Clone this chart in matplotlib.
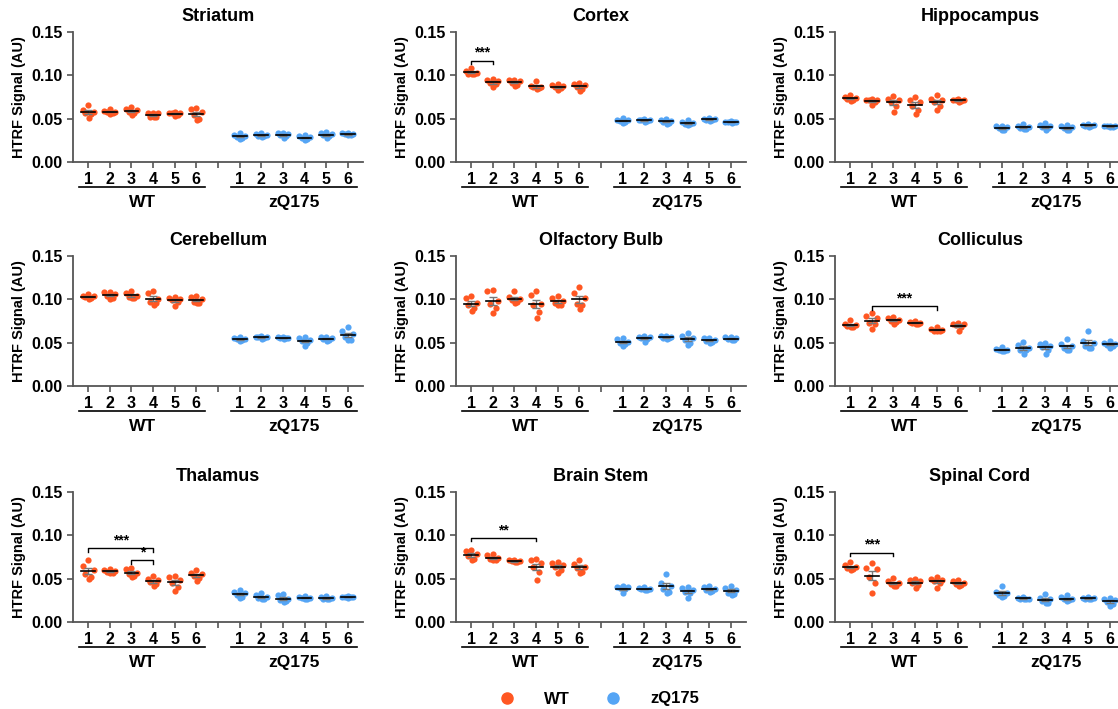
import numpy as np
import matplotlib.pyplot as plt
from matplotlib.lines import Line2D
from matplotlib.transforms import blended_transform_factory

plt.rcParams['font.family'] = ['Liberation Sans', 'DejaVu Sans']
plt.rcParams['font.weight'] = 'bold'

# individual points (HTRF signal, AU), groups 1-6
striatum_wt = [[0.066, 0.060, 0.058, 0.057, 0.055, 0.051], [0.061, 0.059, 0.058, 0.058, 0.057, 0.055],
               [0.063, 0.061, 0.060, 0.058, 0.057, 0.054], [0.057, 0.057, 0.056, 0.052, 0.052, 0.052],
               [0.058, 0.057, 0.057, 0.056, 0.054, 0.053], [0.062, 0.061, 0.058, 0.054, 0.050, 0.048]]
striatum_zq = [[0.033, 0.031, 0.030, 0.029, 0.028, 0.027], [0.033, 0.032, 0.031, 0.030, 0.030, 0.029],
               [0.033, 0.033, 0.032, 0.031, 0.030, 0.028], [0.031, 0.030, 0.029, 0.028, 0.026, 0.025],
               [0.035, 0.033, 0.032, 0.031, 0.030, 0.028], [0.034, 0.033, 0.032, 0.032, 0.031, 0.031]]
cortex_wt = [[0.108, 0.105, 0.103, 0.102, 0.102, 0.101], [0.096, 0.095, 0.093, 0.091, 0.090, 0.086],
             [0.095, 0.095, 0.093, 0.091, 0.089, 0.088], [0.094, 0.088, 0.087, 0.086, 0.085, 0.084],
             [0.090, 0.089, 0.088, 0.087, 0.085, 0.083], [0.091, 0.090, 0.089, 0.087, 0.084, 0.082]]
cortex_zq = [[0.051, 0.049, 0.048, 0.047, 0.046, 0.045], [0.050, 0.049, 0.048, 0.048, 0.047, 0.046],
             [0.050, 0.049, 0.047, 0.046, 0.045, 0.044], [0.048, 0.046, 0.045, 0.044, 0.044, 0.043],
             [0.051, 0.050, 0.050, 0.049, 0.048, 0.047], [0.047, 0.046, 0.046, 0.046, 0.046, 0.045]]
hippo_wt = [[0.077, 0.075, 0.074, 0.073, 0.071, 0.070], [0.073, 0.072, 0.072, 0.071, 0.069, 0.066],
            [0.076, 0.073, 0.071, 0.069, 0.065, 0.058], [0.075, 0.071, 0.069, 0.065, 0.060, 0.055],
            [0.077, 0.073, 0.071, 0.069, 0.065, 0.060], [0.073, 0.072, 0.071, 0.071, 0.070, 0.069]]
hippo_zq = [[0.042, 0.041, 0.040, 0.039, 0.037, 0.037], [0.044, 0.042, 0.040, 0.039, 0.038, 0.038],
            [0.045, 0.043, 0.041, 0.040, 0.039, 0.037], [0.043, 0.041, 0.040, 0.039, 0.037, 0.037],
            [0.044, 0.043, 0.043, 0.042, 0.041, 0.040], [0.042, 0.042, 0.041, 0.041, 0.040, 0.040]]
cereb_wt = [[0.106, 0.104, 0.104, 0.103, 0.102, 0.100], [0.109, 0.108, 0.106, 0.104, 0.102, 0.100],
            [0.110, 0.107, 0.104, 0.103, 0.102, 0.101], [0.110, 0.107, 0.100, 0.097, 0.096, 0.094],
            [0.103, 0.102, 0.100, 0.099, 0.097, 0.092], [0.104, 0.103, 0.100, 0.097, 0.096, 0.096]]
cereb_zq = [[0.056, 0.055, 0.054, 0.054, 0.053, 0.052], [0.058, 0.057, 0.057, 0.056, 0.055, 0.054],
            [0.056, 0.056, 0.055, 0.055, 0.055, 0.054], [0.056, 0.055, 0.053, 0.052, 0.050, 0.046],
            [0.057, 0.056, 0.055, 0.054, 0.053, 0.052], [0.068, 0.064, 0.060, 0.056, 0.053, 0.053]]
olf_wt = [[0.104, 0.102, 0.096, 0.093, 0.090, 0.086], [0.111, 0.110, 0.098, 0.095, 0.090, 0.084],
          [0.110, 0.103, 0.100, 0.099, 0.097, 0.096], [0.110, 0.105, 0.095, 0.093, 0.085, 0.078],
          [0.104, 0.102, 0.098, 0.096, 0.094, 0.093], [0.114, 0.107, 0.102, 0.095, 0.093, 0.089]]
olf_zq = [[0.055, 0.054, 0.051, 0.050, 0.048, 0.046], [0.058, 0.057, 0.056, 0.055, 0.054, 0.051],
          [0.058, 0.058, 0.056, 0.055, 0.055, 0.054], [0.061, 0.058, 0.055, 0.053, 0.050, 0.047],
          [0.055, 0.055, 0.053, 0.052, 0.051, 0.050], [0.057, 0.056, 0.055, 0.054, 0.053, 0.053]]
coll_wt = [[0.076, 0.072, 0.070, 0.069, 0.068, 0.068], [0.084, 0.081, 0.078, 0.073, 0.071, 0.066],
           [0.080, 0.079, 0.076, 0.075, 0.074, 0.072], [0.075, 0.074, 0.073, 0.073, 0.072, 0.071],
           [0.068, 0.066, 0.065, 0.064, 0.063, 0.063], [0.073, 0.072, 0.071, 0.070, 0.068, 0.064]]
coll_zq = [[0.045, 0.043, 0.042, 0.041, 0.040, 0.040], [0.051, 0.047, 0.044, 0.042, 0.041, 0.037],
           [0.050, 0.048, 0.046, 0.045, 0.042, 0.037], [0.054, 0.048, 0.046, 0.044, 0.042, 0.042],
           [0.063, 0.052, 0.050, 0.046, 0.044, 0.044], [0.052, 0.050, 0.049, 0.047, 0.046, 0.044]]
thal_wt = [[0.072, 0.065, 0.060, 0.055, 0.052, 0.050], [0.061, 0.060, 0.059, 0.058, 0.057, 0.056],
           [0.062, 0.061, 0.057, 0.055, 0.053, 0.052], [0.053, 0.050, 0.048, 0.046, 0.044, 0.041],
           [0.053, 0.052, 0.048, 0.045, 0.040, 0.036], [0.060, 0.057, 0.055, 0.053, 0.051, 0.047]]
thal_zq = [[0.037, 0.035, 0.033, 0.031, 0.029, 0.028], [0.033, 0.031, 0.029, 0.028, 0.027, 0.026],
           [0.032, 0.031, 0.027, 0.025, 0.024, 0.023], [0.030, 0.029, 0.028, 0.028, 0.027, 0.027],
           [0.030, 0.029, 0.028, 0.027, 0.026, 0.026], [0.030, 0.029, 0.029, 0.029, 0.029, 0.028]]
stem_wt = [[0.083, 0.082, 0.078, 0.076, 0.073, 0.072], [0.078, 0.077, 0.074, 0.073, 0.072, 0.071],
           [0.071, 0.071, 0.070, 0.070, 0.069, 0.069], [0.073, 0.071, 0.068, 0.064, 0.058, 0.048],
           [0.069, 0.068, 0.066, 0.063, 0.060, 0.057], [0.072, 0.067, 0.064, 0.062, 0.058, 0.056]]
stem_zq = [[0.041, 0.040, 0.040, 0.039, 0.038, 0.033], [0.040, 0.039, 0.038, 0.038, 0.037, 0.037],
           [0.055, 0.045, 0.041, 0.038, 0.035, 0.033], [0.040, 0.039, 0.037, 0.035, 0.033, 0.028],
           [0.041, 0.040, 0.038, 0.037, 0.036, 0.035], [0.042, 0.039, 0.037, 0.034, 0.032, 0.031]]
spinal_wt = [[0.069, 0.066, 0.063, 0.062, 0.061, 0.060], [0.068, 0.062, 0.061, 0.052, 0.045, 0.033],
             [0.051, 0.047, 0.045, 0.044, 0.042, 0.041], [0.050, 0.049, 0.047, 0.045, 0.043, 0.039],
             [0.052, 0.050, 0.048, 0.047, 0.045, 0.039], [0.049, 0.047, 0.045, 0.044, 0.043, 0.042]]
spinal_zq = [[0.042, 0.035, 0.033, 0.031, 0.030, 0.029], [0.029, 0.028, 0.027, 0.027, 0.026, 0.026],
             [0.032, 0.028, 0.026, 0.024, 0.022, 0.022], [0.031, 0.029, 0.027, 0.026, 0.025, 0.024],
             [0.029, 0.028, 0.028, 0.027, 0.026, 0.026], [0.028, 0.026, 0.025, 0.023, 0.021, 0.019]]

titles = ['Striatum', 'Cortex', 'Hippocampus', 'Cerebellum', 'Olfactory Bulb', 'Colliculus',
          'Thalamus', 'Brain Stem', 'Spinal Cord']
wt_data = [striatum_wt, cortex_wt, hippo_wt, cereb_wt, olf_wt, coll_wt, thal_wt, stem_wt, spinal_wt]
zq_data = [striatum_zq, cortex_zq, hippo_zq, cereb_zq, olf_zq, coll_zq, thal_zq, stem_zq, spinal_zq]

# significance brackets: (panel, group a, group b, height, label)
brackets = [(1, 1, 2, 0.117, '***'), (5, 2, 5, 0.092, '***'),
            (6, 1, 4, 0.085, '***'), (6, 3, 4, 0.071, '*'),
            (7, 1, 4, 0.097, '**'), (8, 1, 3, 0.080, '***')]

group_labels = ['1', '2', '3', '4', '5', '6']
c_wt = '#FF5722'
c_zq = '#55A5F5'
axis_col = '#555555'
offsets = [0.0, -0.25, 0.25, -0.13, 0.13, 0.03]

fig = plt.figure(figsize=(11.18, 7.09), dpi=100)
W, H = 1118, 709
lefts = [73, 456, 835]
tops = [32, 256, 492]
ax_w, ax_h = 290, 130

axes = []
for i in range(9):
    r, c = divmod(i, 3)
    ax = fig.add_axes([lefts[c] / W, 1 - (tops[r] + ax_h) / H, ax_w / W, ax_h / H])
    axes.append(ax)

for i, ax in enumerate(axes):
    for g, (data, col, x0) in enumerate([(wt_data[i], c_wt, 1), (zq_data[i], c_zq, 8)]):
        for k, vals in enumerate(data):
            x = x0 + k
            vals = np.array(vals)
            ax.scatter(x + np.array(offsets), vals, s=20, color=col, zorder=2, linewidths=0)
            m = vals.mean()
            sem = vals.std(ddof=1) / np.sqrt(len(vals))
            ax.errorbar(x, m, yerr=sem, fmt='none', ecolor='#777777', elinewidth=1,
                        capsize=3, capthick=1, zorder=3)
            ax.plot([x - 0.32, x + 0.32], [m, m], color='black', lw=1.2, zorder=4)

    ax.set_xlim(0.3, 13.7)
    ax.set_ylim(0, 0.15)
    ax.set_yticks([0, 0.05, 0.10, 0.15])
    ax.set_yticklabels(['0.00', '0.05', '0.10', '0.15'])
    ax.set_xticks(list(range(1, 14)))
    ax.set_xticklabels(group_labels + [''] + group_labels)
    for s in ['top', 'right']:
        ax.spines[s].set_visible(False)
    for s in ['left', 'bottom']:
        ax.spines[s].set_color(axis_col)
        ax.spines[s].set_linewidth(1.3)
    ax.tick_params(axis='both', color=axis_col, width=1.2, length=4, labelsize=11.5)
    ax.tick_params(axis='x', pad=3)
    for lbl in ax.get_xticklabels() + ax.get_yticklabels():
        lbl.set_fontweight('bold')
    ax.set_ylabel('HTRF Signal (AU)', fontsize=10.5, fontweight='bold', labelpad=4)
    ax.set_title(titles[i], fontsize=13, fontweight='bold', pad=8)

    tr = blended_transform_factory(ax.transData, ax.transAxes)
    for a, b, name in [(0.6, 6.4, 'WT'), (7.6, 13.4, 'zQ175')]:
        ax.add_line(Line2D([a, b], [-0.195, -0.195], transform=tr, color='black', lw=1.2, clip_on=False))
        ax.text((a + b) / 2, -0.31, name, transform=tr, ha='center', va='center',
                fontsize=12.5, fontweight='bold')

for p, a, b, y, lab in brackets:
    ax = axes[p]
    ax.plot([a, a, b, b], [y - 0.004, y, y, y - 0.004], color='black', lw=1, zorder=5)
    ax.text((a + b) / 2, y + 0.001, lab, ha='center', va='bottom', fontsize=10, fontweight='bold')

handles = [Line2D([], [], marker='o', ls='none', color=c_wt, markersize=8, label='WT'),
           Line2D([], [], marker='o', ls='none', color=c_zq, markersize=8, label='zQ175')]
fig.legend(handles=handles, loc='center', bbox_to_anchor=(0.532, 1 - 699 / H), ncol=2,
           frameon=False, prop={'weight': 'bold', 'size': 12}, handletextpad=1.2,
           columnspacing=1.6)

fig.savefig('out.png', dpi=100)
